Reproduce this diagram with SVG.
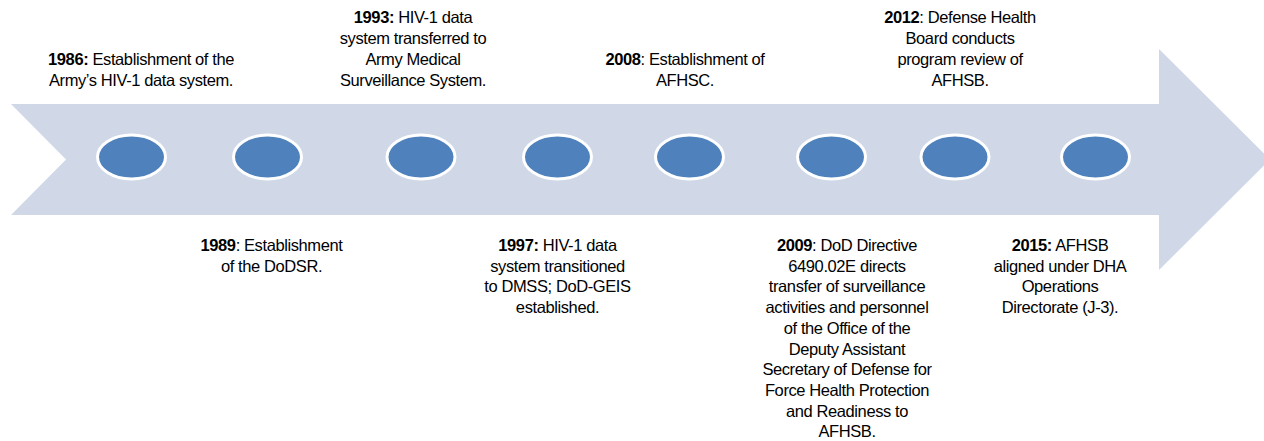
<svg xmlns="http://www.w3.org/2000/svg" width="1264" height="441" viewBox="0 0 1264 441">
<style>
.lbl{font-family:"Liberation Sans",Arial,sans-serif;font-size:16.5px;fill:#000;text-anchor:middle;letter-spacing:-0.4px}
.b{font-weight:bold}
.dot{fill:#4F81BD;stroke:#FFFFFF;stroke-width:3}
</style>
<rect width="1264" height="441" fill="#FFFFFF"/>
<g id="timeline-arrow">
<path d="M11,104 L1159,104 L1159,49 L1270,159.5 L1159,270 L1159,215 L11,215 L66,159.5 Z" fill="#D0D8E8"/>
</g>
<g id="connectors"></g>
<g id="event-1986">
<ellipse class="dot" cx="131.5" cy="157" rx="34" ry="22"/>
<text class="lbl" x="141" y="65"><tspan class="b">1986:</tspan> Establishment of the</text>
<text class="lbl" x="141" y="85.5">Army’s HIV-1 data system.</text>
</g>
<g id="event-1989">
<ellipse class="dot" cx="267.5" cy="157" rx="34" ry="22"/>
<text class="lbl" x="271.5" y="251"><tspan class="b">1989</tspan>: Establishment</text>
<text class="lbl" x="271.5" y="271.7">of the DoDSR.</text>
</g>
<g id="event-1993">
<ellipse class="dot" cx="421" cy="157" rx="34" ry="22"/>
<text class="lbl" x="413" y="23"><tspan class="b">1993:</tspan> HIV-1 data</text>
<text class="lbl" x="413" y="44">system transferred to</text>
<text class="lbl" x="413" y="64.5">Army Medical</text>
<text class="lbl" x="413" y="85.5">Surveillance System.</text>
</g>
<g id="event-1997">
<ellipse class="dot" cx="557.5" cy="157" rx="34" ry="22"/>
<text class="lbl" x="557.5" y="251"><tspan class="b">1997:</tspan> HIV-1 data</text>
<text class="lbl" x="557.5" y="271.7">system transitioned</text>
<text class="lbl" x="557.5" y="292.4">to DMSS; DoD-GEIS</text>
<text class="lbl" x="557.5" y="313.1">established.</text>
</g>
<g id="event-2008">
<ellipse class="dot" cx="689.5" cy="157" rx="34" ry="22"/>
<text class="lbl" x="685" y="65"><tspan class="b">2008</tspan>: Establishment of</text>
<text class="lbl" x="685" y="85.5">AFHSC.</text>
</g>
<g id="event-2009">
<ellipse class="dot" cx="831.5" cy="157" rx="34" ry="22"/>
<text class="lbl" x="847" y="251"><tspan class="b">2009</tspan>: DoD Directive</text>
<text class="lbl" x="847" y="271.7">6490.02E directs</text>
<text class="lbl" x="847" y="292.4">transfer of surveillance</text>
<text class="lbl" x="847" y="313.1">activities and personnel</text>
<text class="lbl" x="847" y="333.8">of the Office of the</text>
<text class="lbl" x="847" y="354.5">Deputy Assistant</text>
<text class="lbl" x="847" y="375.2">Secretary of Defense for</text>
<text class="lbl" x="847" y="395.9">Force Health Protection</text>
<text class="lbl" x="847" y="416.6">and Readiness to</text>
<text class="lbl" x="847" y="437.3">AFHSB.</text>
</g>
<g id="event-2012">
<ellipse class="dot" cx="955" cy="157" rx="34" ry="22"/>
<text class="lbl" x="960" y="23"><tspan class="b">2012</tspan>: Defense Health</text>
<text class="lbl" x="960" y="44">Board conducts</text>
<text class="lbl" x="960" y="64.5">program review of</text>
<text class="lbl" x="960" y="85.5">AFHSB.</text>
</g>
<g id="event-2015">
<ellipse class="dot" cx="1095.5" cy="157" rx="34" ry="22"/>
<text class="lbl" x="1060" y="251"><tspan class="b">2015:</tspan> AFHSB</text>
<text class="lbl" x="1060" y="271.7">aligned under DHA</text>
<text class="lbl" x="1060" y="292.4">Operations</text>
<text class="lbl" x="1060" y="313.1">Directorate (J-3).</text>
</g>
</svg>
